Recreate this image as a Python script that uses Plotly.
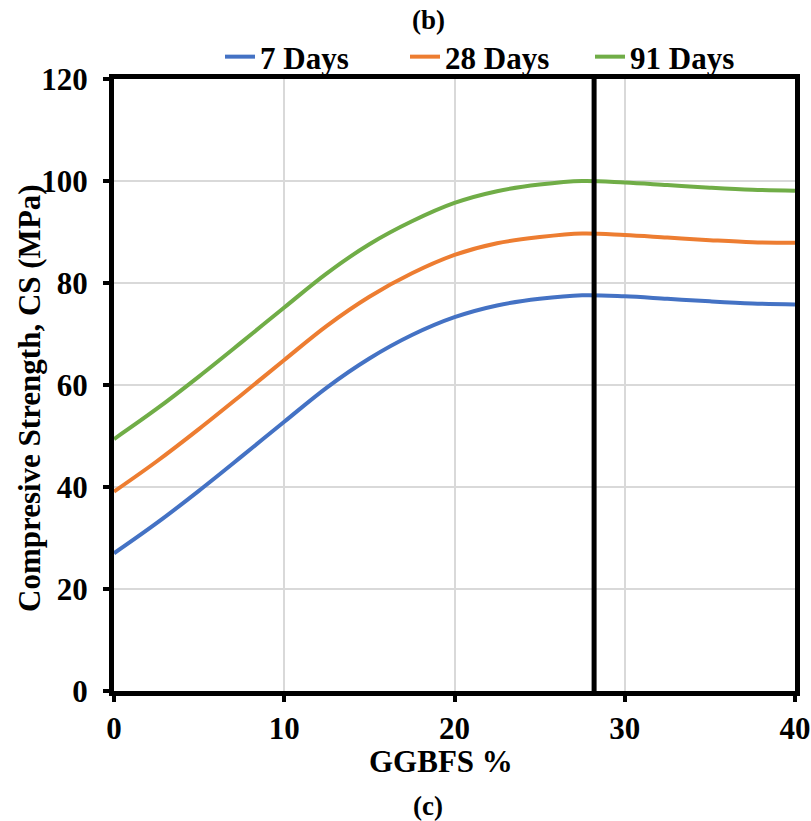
import plotly.graph_objects as go

ggbfs = [0, 2.5, 5, 7.5, 10, 12.5, 15, 17.5, 20, 22.5, 25, 27.5, 30, 32.5, 35, 37.5, 40]
cs_7 = [27.0, 32.9, 39.3, 46.0, 52.8, 59.5, 65.2, 69.8, 73.3, 75.6, 76.9, 77.6, 77.4, 76.9, 76.4, 76.0, 75.8]
cs_28 = [39.1, 45.0, 51.4, 58.1, 64.9, 71.6, 77.3, 81.9, 85.5, 87.8, 89.0, 89.7, 89.4, 88.9, 88.4, 88.0, 87.9]
cs_91 = [49.4, 55.3, 61.7, 68.4, 75.2, 81.9, 87.6, 92.1, 95.7, 98.0, 99.3, 100.0, 99.7, 99.2, 98.7, 98.3, 98.1]
series_names = ["7 Days", "28 Days", "91 Days"]
series_colors = ["#4472C4", "#ED7D31", "#70AD47"]
optimum_x = 28.2

x_ticks = [0, 10, 20, 30, 40]
y_ticks = [0, 20, 40, 60, 80, 100, 120]

FONT = "Liberation Serif"
FS = 31

# plot-area pixel geometry (for caption placement)
L, R, T, B = 114, 795, 79, 691

fig = go.Figure()
for name, vals, col in zip(series_names, [cs_7, cs_28, cs_91], series_colors):
    fig.add_trace(go.Scatter(
        x=ggbfs, y=vals, name=name, mode="lines",
        line=dict(color=col, width=4, shape="spline", smoothing=1.0),
    ))

fig.add_shape(type="line", xref="x", yref="y", x0=optimum_x, x1=optimum_x,
              y0=0, y1=120, line=dict(color="black", width=5))

fig.update_layout(
    width=811, height=821,
    margin=dict(l=L, r=811 - R, t=T, b=821 - B, autoexpand=False),
    paper_bgcolor="white", plot_bgcolor="white",
    font=dict(family=FONT, size=FS, color="black"),
    showlegend=True,
    legend=dict(orientation="h", x=(220 - L) / (R - L), xanchor="left", xref="paper",
                y=(B - 57) / (B - T), yanchor="middle",
                font=dict(family=FONT, size=FS, color="black", weight="bold"),
                bgcolor="rgba(0,0,0,0)", itemwidth=30, tracegroupgap=0,
                entrywidth=140, entrywidthmode="pixels"),
)

fig.update_xaxes(
    range=[0, 40], tickvals=x_ticks, ticktext=[f"<b>{v}</b>" for v in x_ticks],
    showgrid=True, gridcolor="#D9D9D9", gridwidth=1.5,
    showline=True, linecolor="black", linewidth=5, mirror=True,
    ticks="outside", ticklen=6, tickwidth=4, tickcolor="black",
    zeroline=False, automargin=False,
    tickfont=dict(family=FONT, size=FS),
)
fig.update_yaxes(
    range=[0, 120], tickvals=y_ticks, ticktext=[f"<b>{v}</b>" for v in y_ticks],
    showgrid=True, gridcolor="#D9D9D9", gridwidth=1.5,
    showline=True, linecolor="black", linewidth=5, mirror=True,
    ticks="outside", ticklen=6, tickwidth=4, tickcolor="black",
    zeroline=False, automargin=False, ticklabelstandoff=9,
    tickfont=dict(family=FONT, size=FS),
)

fig.add_annotation(text="<b>Compresive Strength, CS (MPa)</b>", xref="paper", yref="paper",
                   x=(30 - L) / (R - L), y=(B - 398) / (B - T), textangle=-90,
                   xanchor="center", yanchor="middle", showarrow=False,
                   font=dict(family=FONT, size=FS))
fig.add_annotation(text="<b>GGBFS %</b>", xref="paper", yref="paper",
                   x=(441 - L) / (R - L), y=(B - 761) / (B - T),
                   xanchor="center", yanchor="middle", showarrow=False,
                   font=dict(family=FONT, size=FS))
fig.add_annotation(text="<b>(b)</b>", xref="paper", yref="paper",
                   x=(428 - L) / (R - L), y=(B - 20) / (B - T),
                   xanchor="center", yanchor="middle", showarrow=False,
                   font=dict(family=FONT, size=27))
fig.add_annotation(text="<b>(c)</b>", xref="paper", yref="paper",
                   x=(428 - L) / (R - L), y=(B - 806) / (B - T),
                   xanchor="center", yanchor="middle", showarrow=False,
                   font=dict(family=FONT, size=27))

fig.write_html("out.html")
